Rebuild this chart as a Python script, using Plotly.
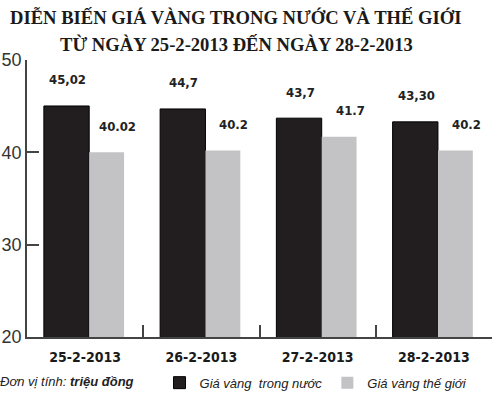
import plotly.graph_objects as go

# data
dates = ['25-2-2013', '26-2-2013', '27-2-2013', '28-2-2013']
trong_nuoc = [45.02, 44.7, 43.7, 43.30]
the_gioi = [40.02, 40.2, 41.7, 40.2]
lbl_trong_nuoc = ['45,02', '44,7', '43,7', '43,30']
lbl_the_gioi = ['40.02', '40.2', '41.7', '40.2']
y_ticks = [20, 30, 40, 50]

narrow = 'Liberation Sans Narrow, DejaVu Sans Condensed, Arial Narrow, sans-serif'

fig = go.Figure()
fig.add_bar(x=dates, y=trong_nuoc, name='Giá vàng  trong nước',
            marker=dict(color='#221e1f', line=dict(color='#000000', width=1)),
            width=0.39, offset=-0.355)
fig.add_bar(x=dates, y=the_gioi, name='Giá vàng thế giới',
            marker=dict(color='#c3c3c5', line=dict(color='#c3c3c5', width=0)),
            width=0.30, offset=0.035)

# value labels above the bars
for i in range(len(dates)):
    fig.add_annotation(x=i - 0.15, y=trong_nuoc[i], text=lbl_trong_nuoc[i],
                       showarrow=False, yshift=26,
                       font=dict(family=narrow, size=13, color='#222222', weight='bold'))
    fig.add_annotation(x=i + 0.28, y=the_gioi[i], text=lbl_the_gioi[i],
                       showarrow=False, yshift=26,
                       font=dict(family=narrow, size=13, color='#222222', weight='bold'))

# title, two lines
title_font = dict(family='Liberation Serif, Times New Roman, serif', size=18.6,
                  color='#1a1a1a', weight='bold')
fig.add_annotation(text='DIỄN BIẾN GIÁ VÀNG TRONG NƯỚC VÀ THẾ GIỚI',
                   xref='paper', yref='paper', x=0.45, y=1.0, yshift=43,
                   showarrow=False, xanchor='center', yanchor='middle', font=title_font)
fig.add_annotation(text='TỪ NGÀY 25-2-2013 ĐẾN NGÀY 28-2-2013',
                   xref='paper', yref='paper', x=0.45, y=1.0, yshift=16,
                   showarrow=False, xanchor='center', yanchor='middle', font=title_font)

# unit note
fig.add_annotation(text='Đơn vị tính: <b>triệu đồng</b>',
                   xref='paper', yref='paper', x=-0.063, y=-0.16,
                   showarrow=False, xanchor='left', yanchor='middle',
                   font=dict(family='Liberation Sans, Arial, sans-serif', size=13,
                             color='#222222', style='italic'))

fig.update_layout(
    width=500, height=401,
    margin=dict(l=27, r=8, t=60, b=64, autoexpand=False),
    paper_bgcolor='white', plot_bgcolor='white',
    barmode='overlay', showlegend=True,
    legend=dict(orientation='h', x=0.285, y=-0.165, yanchor='middle', xanchor='left',
                bgcolor='rgba(0,0,0,0)',
                font=dict(family='Liberation Sans, Arial, sans-serif', size=13,
                          color='#222222', style='italic'),
                itemwidth=30, traceorder='normal'),
    xaxis=dict(showline=True, linecolor='#444444', linewidth=1.5, automargin=False,
               ticks='inside', tickson='boundaries', ticklen=12, tickcolor='#444444',
               tickwidth=1.5, ticklabelstandoff=6,
               tickfont=dict(family=narrow, size=14, color='#1a1a1a', weight='bold'),
               showgrid=False, range=[-0.5, 3.5]),
    yaxis=dict(showline=True, linecolor='#444444', linewidth=1.5, automargin=False,
               ticks='inside', ticklen=12, tickcolor='#444444', tickwidth=1.5,
               tickvals=y_ticks, range=[20, 50], showgrid=False, zeroline=False,
               tickfont=dict(family='Liberation Sans, Arial, sans-serif', size=18,
                             color='#333333')),
)

# the page's default body margin would shift the chart by 8px
fig.write_html('out.html', config={'displayModeBar': False},
               post_script="document.body.style.margin = '0';")
